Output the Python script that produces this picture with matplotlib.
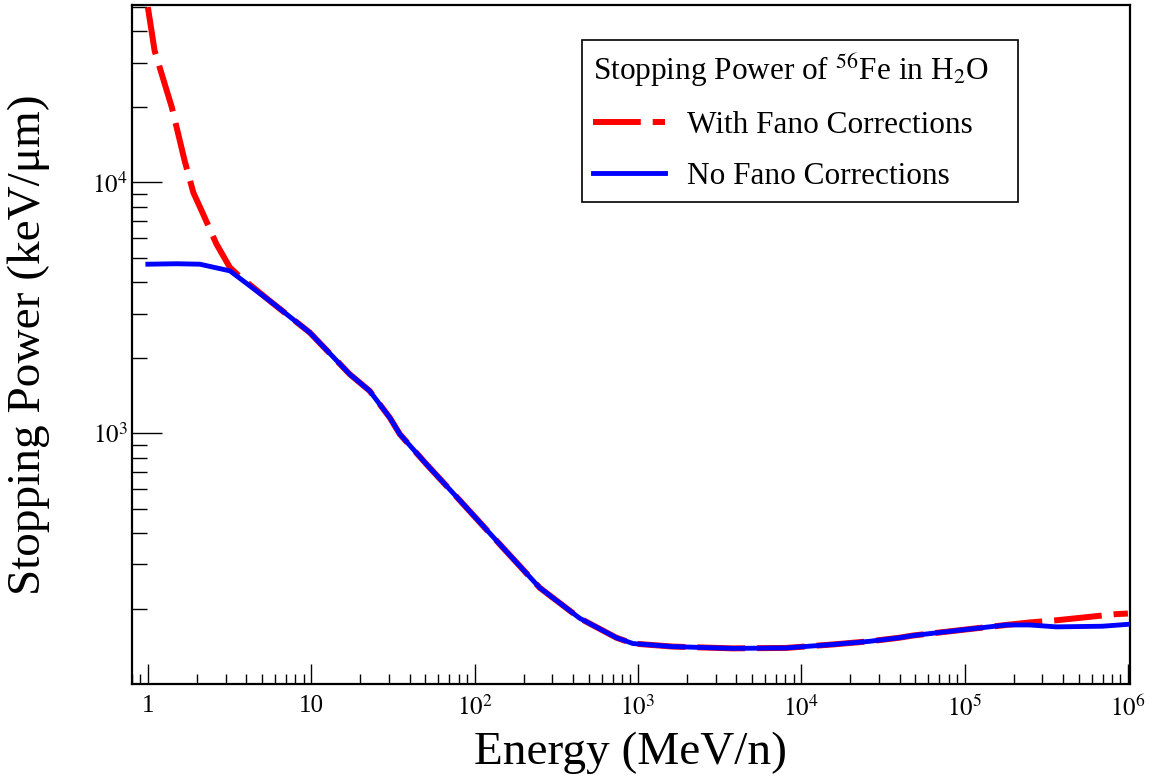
import matplotlib
matplotlib.use("Agg")
import matplotlib.pyplot as plt
from matplotlib.ticker import FixedLocator, FixedFormatter, NullFormatter, LogLocator

plt.rcParams['font.family'] = ['Liberation Serif', 'DejaVu Serif']
plt.rcParams['mathtext.fontset'] = 'stix'

# Energy (MeV/n) and stopping power (keV/um)
energy_fano = [1.0, 1.1, 1.4, 1.68, 1.9, 2.18, 2.63, 3.18, 3.6, 5.58, 9.8, 17.2, 22.8, 30.3,
               34.9, 50.8, 81.2, 142.6, 250.6, 440, 738, 933, 1640, 3820, 8100, 15600,
               26200, 40000, 48000, 102000, 180000, 250000, 364000, 848000, 1000000]
sp_fano = [50000, 33500, 20000, 12200, 9100, 7480, 5680, 4580, 4250, 3370, 2520, 1720, 1475, 1153,
           991, 752, 540, 361, 242, 183, 153, 145, 141, 138.7, 139.3, 143.8,
           148, 153, 156, 165, 172, 176, 179.5, 190, 191]

energy_nofano = [1.0, 1.5, 2.08, 3.18, 5.58, 9.8, 17.2, 22.8, 30.3,
                 34.9, 50.8, 81.2, 142.6, 250.6, 440, 738, 933, 1640, 3820, 8100, 15600,
                 26200, 40000, 48000, 102000, 180000, 250000, 364000, 700000, 1000000]
sp_nofano = [4720, 4740, 4720, 4440, 3370, 2520, 1720, 1475, 1153,
             991, 752, 540, 361, 242, 183, 153, 145, 141, 138.7, 139.3, 143.8,
             148, 153, 156, 165, 172, 172, 169, 170, 173]

xtick_vals = [1, 10, 1e2, 1e3, 1e4, 1e5, 1e6]
xtick_labels = ['1', '10', r'$10^{2}$', r'$10^{3}$', r'$10^{4}$', r'$10^{5}$', r'$10^{6}$']
ytick_vals = [1e3, 1e4]
ytick_labels = [r'$10^{3}$', r'$10^{4}$']

fig = plt.figure(figsize=(11.52, 7.78), dpi=100)
ax = fig.add_axes([0.1146, 0.1208, 0.8663, 0.8728])

ax.plot(energy_fano, sp_fano, color=(1, 0, 0), lw=4.3, dashes=(8.0, 2.0),
        dash_capstyle='butt', label='With Fano Corrections', zorder=2)
ax.plot(energy_nofano, sp_nofano, color=(0, 0, 1), lw=3.5,
        label='No Fano Corrections', zorder=3)

ax.set_xscale('log')
ax.set_yscale('log')
ax.set_xlim(0.8, 1.03e6)
ax.set_ylim(100, 51000)

ax.xaxis.set_major_locator(FixedLocator(xtick_vals))
ax.xaxis.set_major_formatter(FixedFormatter(xtick_labels))
ax.xaxis.set_minor_locator(LogLocator(base=10, subs=range(2, 10), numticks=30))
ax.xaxis.set_minor_formatter(NullFormatter())
ax.yaxis.set_major_locator(FixedLocator(ytick_vals))
ax.yaxis.set_major_formatter(FixedFormatter(ytick_labels))
ax.yaxis.set_minor_locator(LogLocator(base=10, subs=range(2, 10), numticks=30))
ax.yaxis.set_minor_formatter(NullFormatter())

ax.tick_params(axis='x', which='major', direction='in', length=14.5, width=1.0, labelsize=18, pad=8)
ax.tick_params(axis='x', which='minor', direction='in', length=7.2, width=1.0)
ax.tick_params(axis='y', which='major', direction='in', length=21.5, width=1.0, labelsize=18, pad=3)
ax.tick_params(axis='y', which='minor', direction='in', length=10.8, width=1.0)
ax.tick_params(top=False, right=False, which='both')
for s in ax.spines.values():
    s.set_linewidth(1.6)

ax.set_xlabel('Energy (MeV/n)', fontsize=34)
ax.set_ylabel('Stopping Power (keV/μm)', fontsize=34)
ax.xaxis.set_label_coords(0.499, -0.07)
ax.yaxis.set_label_coords(-0.082, 0.5)

leg = ax.legend(loc='upper left', bbox_to_anchor=(0.451, 0.713, 0.437, 0.235), mode='expand',
                fontsize=22.5,
                title=r'Stopping Power of $^{56}$Fe in H$_2$O', title_fontsize=22.5,
                frameon=True, fancybox=False, framealpha=1, edgecolor='black',
                handlelength=2.3, handletextpad=0.7, labelspacing=0.7,
                borderpad=0.35, borderaxespad=0)
leg.get_frame().set_linewidth(1.2)
leg._legend_box.align = 'left'

fig.savefig('out.png', dpi=100)
